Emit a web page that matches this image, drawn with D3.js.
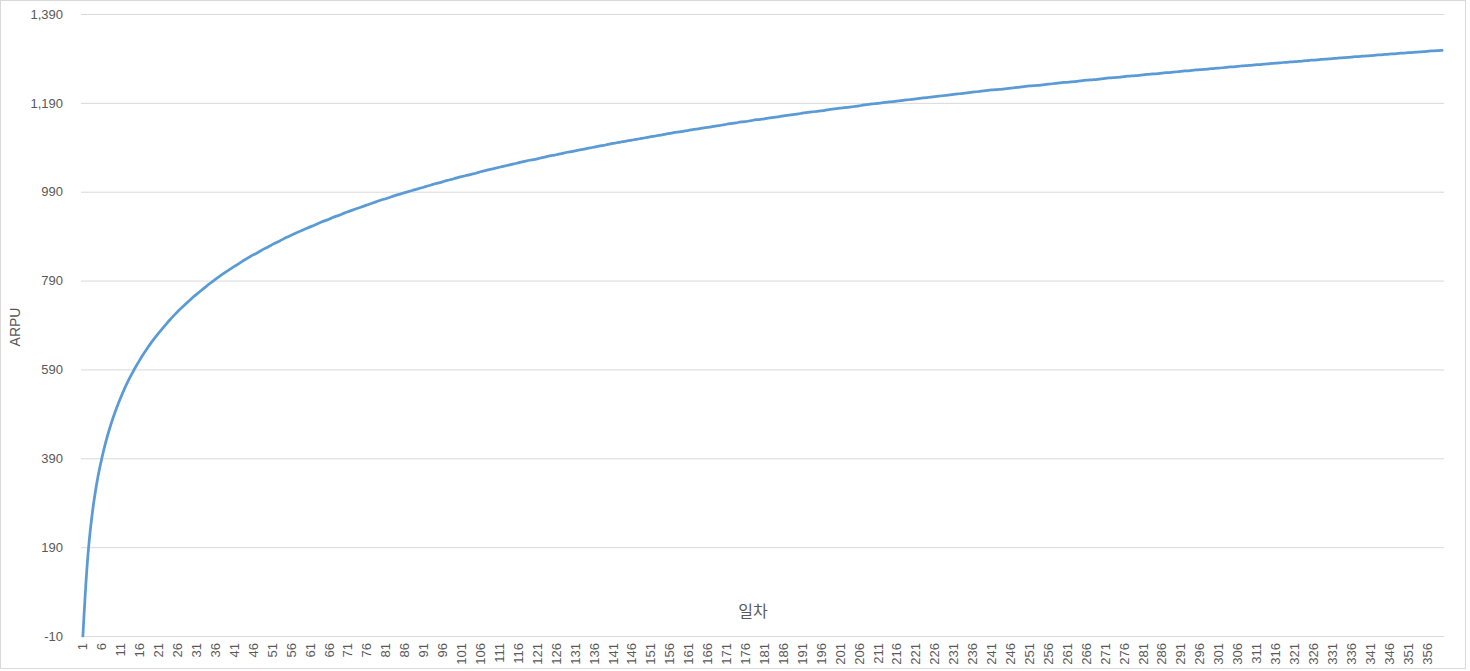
<!DOCTYPE html>
<html>
<head>
<meta charset="utf-8">
<script src="https://cdn.jsdelivr.net/npm/d3@7"></script>
<style>
  html, body { margin: 0; padding: 0; background: #fff; }
  #chart { width: 1470px; height: 671px; }
</style>
</head>
<body>
<div id="chart"></div>
<script>
// ARPU by day (1..360)
const arpu = [
  -10, 145, 236, 301, 351, 391, 426, 456, 482, 506,
  527, 547, 565, 581, 597, 611, 625, 637, 650, 661,
  672, 682, 692, 702, 711, 720, 728, 736, 744, 752,
  759, 766, 773, 780, 786, 793, 799, 805, 811, 816,
  822, 827, 833, 838, 843, 848, 852, 857, 862, 866,
  871, 875, 879, 884, 888, 892, 896, 900, 903, 907,
  911, 914, 918, 922, 925, 928, 932, 935, 938, 942,
  945, 948, 951, 954, 957, 960, 963, 966, 969, 972,
  974, 977, 980, 983, 985, 988, 990, 993, 995, 998,
  1000, 1003, 1005, 1008, 1010, 1012, 1015, 1017, 1019, 1022,
  1024, 1026, 1028, 1030, 1032, 1035, 1037, 1039, 1041, 1043,
  1045, 1047, 1049, 1051, 1053, 1055, 1057, 1059, 1061, 1062,
  1064, 1066, 1068, 1070, 1072, 1073, 1075, 1077, 1079, 1080,
  1082, 1084, 1085, 1087, 1089, 1090, 1092, 1094, 1095, 1097,
  1099, 1100, 1102, 1103, 1105, 1106, 1108, 1109, 1111, 1112,
  1114, 1115, 1117, 1118, 1120, 1121, 1123, 1124, 1125, 1127,
  1128, 1130, 1131, 1132, 1134, 1135, 1136, 1138, 1139, 1140,
  1142, 1143, 1144, 1146, 1147, 1148, 1149, 1151, 1152, 1153,
  1154, 1156, 1157, 1158, 1159, 1161, 1162, 1163, 1164, 1165,
  1167, 1168, 1169, 1170, 1171, 1172, 1173, 1175, 1176, 1177,
  1178, 1179, 1180, 1181, 1182, 1183, 1185, 1186, 1187, 1188,
  1189, 1190, 1191, 1192, 1193, 1194, 1195, 1196, 1197, 1198,
  1199, 1200, 1201, 1202, 1203, 1204, 1205, 1206, 1207, 1208,
  1209, 1210, 1211, 1212, 1213, 1214, 1215, 1216, 1217, 1218,
  1219, 1220, 1220, 1221, 1222, 1223, 1224, 1225, 1226, 1227,
  1228, 1229, 1229, 1230, 1231, 1232, 1233, 1234, 1235, 1236,
  1236, 1237, 1238, 1239, 1240, 1241, 1242, 1242, 1243, 1244,
  1245, 1246, 1247, 1247, 1248, 1249, 1250, 1251, 1251, 1252,
  1253, 1254, 1255, 1255, 1256, 1257, 1258, 1258, 1259, 1260,
  1261, 1262, 1262, 1263, 1264, 1265, 1265, 1266, 1267, 1268,
  1268, 1269, 1270, 1271, 1271, 1272, 1273, 1274, 1274, 1275,
  1276, 1276, 1277, 1278, 1279, 1279, 1280, 1281, 1281, 1282,
  1283, 1283, 1284, 1285, 1286, 1286, 1287, 1288, 1288, 1289,
  1290, 1290, 1291, 1292, 1292, 1293, 1294, 1294, 1295, 1296,
  1296, 1297, 1298, 1298, 1299, 1300, 1300, 1301, 1302, 1302,
  1303, 1303, 1304, 1305, 1305, 1306, 1307, 1307, 1308, 1308
];
const days = arpu.map((_, i) => i + 1);
const yTicks = [-10, 190, 390, 590, 790, 990, 1190, 1390];
const xTicks = days.filter((d, i) => i % 5 === 0);
const xTitle = "일차";
const yTitle = "ARPU";

const width = 1470;
const height = 671;
const marginTop = 14;
const marginRight = 26;
const marginBottom = 35;
const marginLeft = 81;

const svg = d3.select("#chart")
  .append("svg")
    .attr("width", width)
    .attr("height", height)
    .attr("viewBox", [0, 0, width, height])
    .style("font-family", "'Liberation Sans', Arial, sans-serif");

// chart border
svg.append("rect")
    .attr("x", 0.5).attr("y", 0.5)
    .attr("width", width - 5).attr("height", height - 3)
    .attr("fill", "#fff")
    .attr("stroke", "#d9d9d9");

const x = d3.scaleBand()
    .domain(days)
    .range([marginLeft, width - marginRight])
    .padding(0);

const y = d3.scaleLinear()
    .domain([-10, 1390])
    .range([height - marginBottom, marginTop]);

// excel style: plain hyphen for negatives
const fmt = d => (d < 0 ? "-" : "") + d3.format(",d")(Math.abs(d));

// y gridlines + labels
svg.append("g")
    .attr("transform", `translate(${marginLeft},0)`)
    .call(d3.axisLeft(y).tickValues(yTicks).tickFormat(fmt).tickSize(0).tickPadding(18))
    .call(g => g.select(".domain").remove())
    .call(g => g.selectAll(".tick line").clone()
        .attr("x2", width - marginLeft - marginRight)
        .attr("stroke", "#d9d9d9"))
    .call(g => g.selectAll(".tick text")
        .attr("fill", "#595959")
        .attr("font-size", 13));

// x axis
svg.append("g")
    .attr("transform", `translate(0,${y(-10)})`)
    .call(d3.axisBottom(x).tickValues(xTicks).tickSize(0))
    .call(g => g.select(".domain").remove())
    .call(g => g.selectAll(".tick text")
        .attr("fill", "#595959")
        .attr("font-size", 13)
        .attr("text-anchor", "end")
        .attr("transform", "rotate(-90)")
        .attr("x", -7)
        .attr("y", 0)
        .attr("dy", "0.35em"));

// line
const line = d3.line()
    .x((d, i) => x(days[i]) + x.bandwidth() / 2)
    .y(d => y(d))
    .curve(d3.curveBasis);

svg.append("path")
    .datum(arpu)
    .attr("fill", "none")
    .attr("stroke", "#5b9bd5")
    .attr("stroke-width", 2.75)
    .attr("stroke-linecap", "round")
    .attr("d", line);

// axis titles
svg.append("text")
    .attr("x", 753)
    .attr("y", 617)
    .attr("text-anchor", "middle")
    .attr("fill", "#595959")
    .attr("font-size", 16)
    .attr("font-family", "'Noto Sans CJK KR', sans-serif")
    .text(xTitle);

svg.append("text")
    .attr("transform", `translate(20,327) rotate(-90)`)
    .attr("text-anchor", "middle")
    .attr("fill", "#595959")
    .attr("font-size", 14)
    .text(yTitle);
</script>
</body>
</html>
